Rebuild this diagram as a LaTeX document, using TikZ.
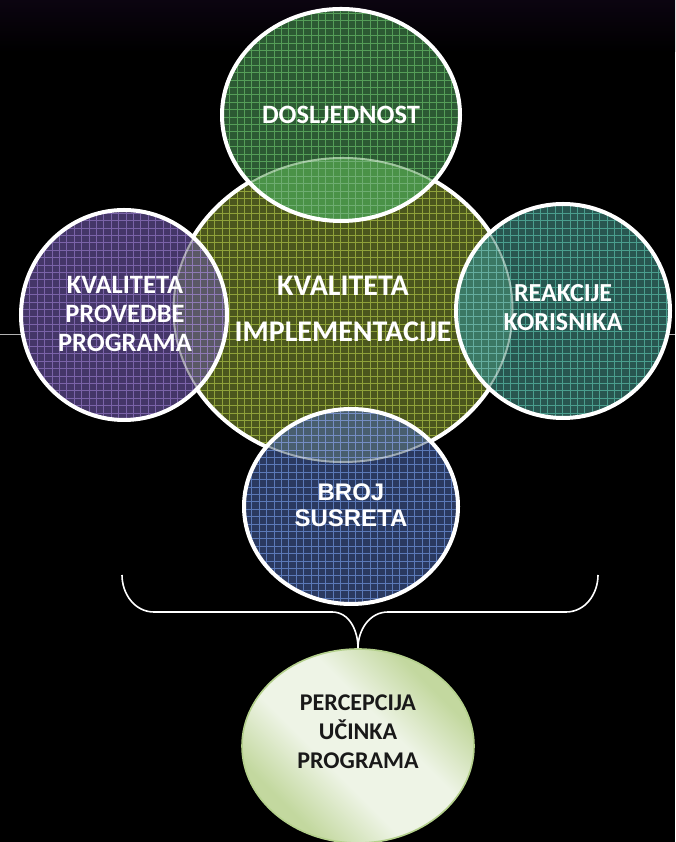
\documentclass[tikz,border=0pt]{standalone}
\usepackage{fontspec}
\setmainfont{Carlito}
\newfontfamily\arialfont{Liberation Sans}
\usetikzlibrary{shapes.geometric, positioning}

\definecolor{corefill}{HTML}{4B571D}
\definecolor{coregrid}{HTML}{8FA23A}
\definecolor{topfill}{HTML}{2C5A33}
\definecolor{topgrid}{HTML}{559E58}
\definecolor{toplens}{HTML}{4A9247}
\definecolor{leftfill}{HTML}{443668}
\definecolor{leftgrid}{HTML}{7A63A8}
\definecolor{leftlens}{HTML}{5A5866}
\definecolor{rightfill}{HTML}{285650}
\definecolor{rightgrid}{HTML}{4A9E8E}
\definecolor{rightlens}{HTML}{3B7864}
\definecolor{lowfill}{HTML}{2A3960}
\definecolor{lowgrid}{HTML}{5B79B8}
\definecolor{lowlens}{HTML}{485E6E}
\definecolor{effectlight}{HTML}{EEF4E6}
\definecolor{effectdark}{HTML}{C3D89F}
\definecolor{effectrim}{HTML}{B4D08C}
\definecolor{skyviolet}{HTML}{0B0410}

\pgfdeclareverticalshading{effectglow}{100bp}{color(0bp)=(effectdark); color(28bp)=(effectdark);
    color(42bp)=(effectlight); color(58bp)=(effectlight); color(72bp)=(effectdark); color(100bp)=(effectdark)}

\tikzset{
    ring/.style={draw=white, line width=4pt},
    ghost/.style={draw=white, draw opacity=0.45, line width=4pt},
    mesh/.style={line width=0.4pt, step=7.4pt},
    caption/.style={text=white, align=center, font=\bfseries\fontsize{26.5}{29}\selectfont},
    bracket/.style={draw=white, line width=1.6pt},
}

% bubble outlines
\def\shpCore{(343,532) ellipse [x radius=170.5, y radius=153]}
\def\shpTop{(341,727) ellipse [x radius=119, y radius=106]}
\def\shpLeft{(124,527) ellipse [x radius=103, y radius=105]}
\def\shpRight{(563,531) ellipse [x radius=107, y radius=107]}
\def\shpLow{(351,335.5) ellipse [x radius=107, y radius=97.5]}

\begin{document}
\begin{tikzpicture}[x=1pt, y=1pt]
    \useasboundingbox (0,0) rectangle (675,842);
    \fill[black] (0,0) rectangle (675,842);
    \shade[top color=skyviolet, bottom color=black] (0,790) rectangle (675,842);
    \draw[gray!60, line width=0.6pt] (0,508) -- (675,508);

    % central bubble
    \fill[corefill] \shpCore;
    \begin{scope}
        \clip \shpCore;
        \draw[mesh, coregrid] (0,0) grid (675,842);
    \end{scope}
    \draw[ring] \shpCore;

    % satellites
    \foreach \shp/\body/\lines/\lens in {\shpTop/topfill/topgrid/toplens,
                                        \shpLeft/leftfill/leftgrid/leftlens,
                                        \shpRight/rightfill/rightgrid/rightlens,
                                        \shpLow/lowfill/lowgrid/lowlens}{
        \fill[\body] \shp;
        \begin{scope}
            \clip \shp;
            \draw[mesh, \lines] (0,0) grid (675,842);
            \clip \shpCore;
            \fill[\lens] (0,0) rectangle (675,842);
            \draw[mesh, \lines!85!white] (0,0) grid (675,842);
            \draw[ghost] \shpCore;
        \end{scope}
        \draw[ring] \shp;
    }

    \node[caption] (dosl) at (341,727) {DOSLJEDNOST};
    \node[caption, font=\bfseries\fontsize{30}{46}\selectfont] (core) at (343,533) {KVALITETA\\IMPLEMENTACIJE};
    \node[caption] (prov) at (125,528) {KVALITETA\\PROVEDBE\\PROGRAMA};
    \node[caption, font=\bfseries\fontsize{26}{29}\selectfont] (reak) at (563,534) {REAKCIJE\\KORISNIKA};
    \node[caption, font=\arialfont\bfseries\fontsize{24}{26}\selectfont] (susr) at (351,337) {BROJ\\SUSRETA};

    % outcome
    \node[ellipse, draw=effectrim, line width=1.6pt, minimum width=232pt, minimum height=194pt,
          shading=effectglow, shading angle=-45]
          (effect) at (358,96) {};
    \node[caption, text=black!90, font=\bfseries\fontsize{24}{29}\selectfont] (effectlbl)
          at ([yshift=14pt]effect.center) {PERCEPCIJA\\UČINKA\\PROGRAMA};

    \draw[bracket] (122,267) to[out=-90, in=180] (154,230) -- (332,230) to[out=0, in=90] (effect.north);
    \draw[bracket] (598,267) to[out=-90, in=0] (566,230) -- (388,230) to[out=180, in=90] (effect.north);
\end{tikzpicture}
\end{document}
